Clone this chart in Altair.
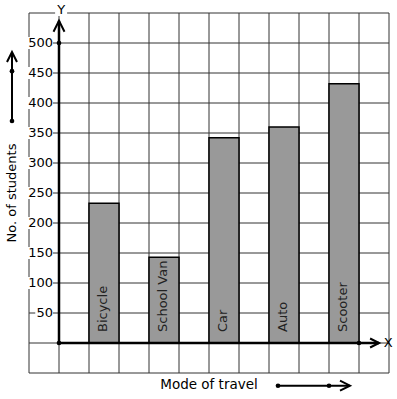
import altair as alt
import pandas as pd

# ---- data ----
modes = ["Bicycle", "School Van", "Car", "Auto", "Scooter"]
students = [233, 143, 342, 360, 432]
tick_values = [50, 100, 150, 200, 250, 300, 350, 400, 450, 500]
tick_labels = [str(v) for v in tick_values]
grid_x = list(range(-1, 12))
grid_y = list(range(-50, 551, 50))
x_title = "Mode of travel"
y_title = "No. of students"

FONT = "DejaVu Sans"
GRID = "#333333"

bars = pd.DataFrame({"mode": modes, "students": students})
bars["slot"] = [2 * i + 1 for i in range(len(modes))]
bars["slot_end"] = bars["slot"] + 1
bars["mid"] = bars["slot"] + 0.5

ticks = pd.DataFrame({"v": tick_values, "label": tick_labels})
gx = pd.DataFrame({"gx": grid_x})
gy = pd.DataFrame({"gy": grid_y})

XS = alt.Scale(domain=[-1, 11], nice=False, zero=False)
YS = alt.Scale(domain=[-50, 550], nice=False, zero=False)

one = pd.DataFrame({"a": [0]})

# grid
vgrid = alt.Chart(gx).mark_rule(color=GRID, strokeWidth=1).encode(
    x=alt.X("gx:Q", scale=XS, axis=None),
    y=alt.Y(datum=-50, scale=YS, axis=None), y2=alt.Y2(datum=550),
)
hgrid = alt.Chart(gy).mark_rule(color=GRID, strokeWidth=1).encode(
    x=alt.X(datum=-1, scale=XS, axis=None), x2=alt.X2(datum=11),
    y=alt.Y("gy:Q", scale=YS, axis=None),
)

bar_layer = alt.Chart(bars).mark_rect(fill="#999999", stroke="black", strokeWidth=1.5).encode(
    x=alt.X("slot:Q", scale=XS, axis=None),
    x2="slot_end:Q",
    y=alt.Y("students:Q", scale=YS, axis=None),
    y2=alt.Y2(datum=0),
)

bar_text = alt.Chart(bars).mark_text(angle=270, align="left", baseline="middle", dx=11, dy=-1,
                                     fontSize=13, font=FONT, color="#222222").encode(
    x=alt.X("mid:Q", scale=XS, axis=None),
    y=alt.Y(datum=0, scale=YS, axis=None),
    text="mode:N",
)

# white boxes behind the tick labels
label_bg = alt.Chart(ticks).transform_calculate(
    x1="-0.2 - length(datum.label) * 0.276 - 0.04",
    x2="-0.2",
    y1="datum.v - 10",
    y2="datum.v + 10",
).mark_rect(fill="white").encode(
    x=alt.X("x1:Q", scale=XS, axis=None), x2="x2:Q",
    y=alt.Y("y1:Q", scale=YS, axis=None), y2="y2:Q",
)

label_text = alt.Chart(ticks).mark_text(align="right", baseline="middle", fontSize=13, font=FONT,
                                        color="black").encode(
    x=alt.X(datum=-0.2, scale=XS, axis=None),
    y=alt.Y("v:Q", scale=YS, axis=None),
    text="label:N",
)

# white box behind "Y"
y_bg = alt.Chart(one).mark_rect(fill="white").encode(
    x=alt.X(datum=-0.13, scale=XS, axis=None), x2=alt.X2(datum=0.27),
    y=alt.Y(datum=545, scale=YS, axis=None), y2=alt.Y2(datum=572),
)

# axis lines
y_axis = alt.Chart(one).mark_rule(color="black", strokeWidth=2.5).encode(
    x=alt.X(datum=0, scale=XS, axis=None),
    y=alt.Y(datum=0, scale=YS, axis=None), y2=alt.Y2(datum=537),
)
x_axis = alt.Chart(one).mark_rule(color="black", strokeWidth=2.5).encode(
    x=alt.X(datum=0, scale=XS, axis=None), x2=alt.X2(datum=10.67),
    y=alt.Y(datum=0, scale=YS, axis=None),
)

# decorative arrows beside titles
y_arrow = alt.Chart(one).mark_rule(color="black", strokeWidth=2).encode(
    x=alt.X(datum=-1.567, scale=XS, axis=None),
    y=alt.Y(datum=370, scale=YS, axis=None), y2=alt.Y2(datum=485),
)
x_arrow = alt.Chart(one).mark_rule(color="black", strokeWidth=2).encode(
    x=alt.X(datum=7.3, scale=XS, axis=None), x2=alt.X2(datum=9.7),
    y=alt.Y(datum=-71.2, scale=YS, axis=None),
)

UP = "M-0.5,1L0,0L0.5,1"
RIGHT = "M-1,-0.5L0,0L-1,0.5"


def head(x, y, shape, size):
    return alt.Chart(one).mark_point(shape=shape, size=size, filled=False, color="black",
                                     strokeWidth=2, opacity=1).encode(
        x=alt.X(datum=x, scale=XS, axis=None),
        y=alt.Y(datum=y, scale=YS, axis=None),
    )


heads = [
    head(0, 537, UP, 484),
    head(10.67, 0, RIGHT, 324),
    head(-1.567, 485, UP, 400),
    head(9.7, -71.2, RIGHT, 400),
]

dots = pd.DataFrame({
    "x": [0, 0, 10, -1.567, -1.567, 7.3, 9.0],
    "y": [500, 0, 0, 453, 370, -71.2, -71.2],
})
dot_layer = alt.Chart(dots).mark_circle(size=22, color="black", opacity=1).encode(
    x=alt.X("x:Q", scale=XS, axis=None),
    y=alt.Y("y:Q", scale=YS, axis=None),
)


def label(txt, x, y, size=13, angle=0):
    return alt.Chart(one).mark_text(text=txt, fontSize=size, font=FONT, color="black",
                                    align="center", baseline="middle", angle=angle).encode(
        x=alt.X(datum=x, scale=XS, axis=None),
        y=alt.Y(datum=y, scale=YS, axis=None),
    )


texts = [
    label("Y", 0.07, 555),
    label("X", 10.97, 0),
    label(y_title, -1.567, 250, 13, 270),
    label(x_title, 5, -70, 13.5),
]

chart = alt.layer(
    vgrid, hgrid, bar_layer, label_bg, label_text, y_bg, bar_text,
    y_axis, x_axis, y_arrow, x_arrow, *heads, dot_layer, *texts,
).properties(
    width=360, height=360,
    autosize=alt.AutoSizeParams(type="none"),
    padding={"left": 29, "top": 13, "right": 8, "bottom": 26},
    background="white",
).configure_view(stroke=None)

chart.save("out.html", embed_options={"renderer": "svg", "actions": False})
